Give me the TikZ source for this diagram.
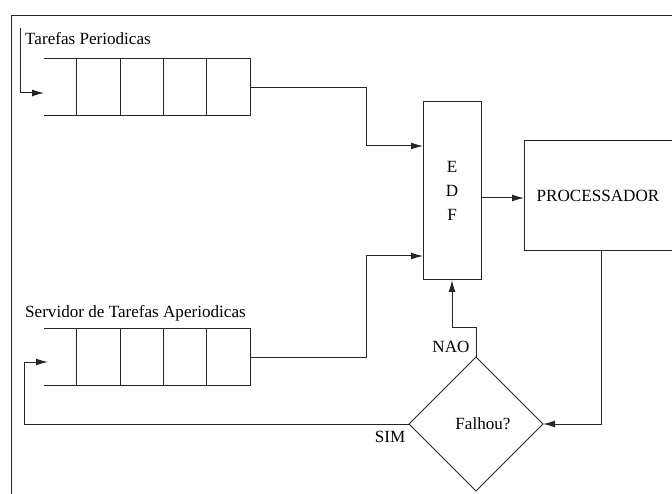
\documentclass[tikz,border=0pt]{standalone}
\usepackage{fontspec}
\setmainfont{Liberation Serif}
\usetikzlibrary{arrows.meta,shapes.geometric}
\begin{document}
\begin{tikzpicture}[x=1pt,y=-1pt,
  every node/.style={font=\fontsize{17.1}{24}\selectfont},
  ln/.style={line width=1pt,draw=black!85},
  arr/.style={ln,-{Latex[length=12pt,width=7pt]}},
  qbox/.style={ln,draw,rectangle,minimum width=43.25pt,minimum height=57pt,inner sep=0pt,outer sep=0pt}]
\useasboundingbox (0,0) rectangle (672,494);
% frame
\draw[ln] (672,16) -- (11,16) -- (11,494);
% queue 1
\node[qbox] (q1a) at (98.6,87.5) {};
\node[qbox] (q1b) at (141.9,87.5) {};
\node[qbox] (q1c) at (185.1,87.5) {};
\node[qbox] (q1d) at (228.4,87.5) {};
\draw[ln] (44,59) -- (q1a.north west);
\draw[ln] (44,116) -- (q1a.south west);
% queue 2
\node[qbox] (q2a) at (98.6,357) {};
\node[qbox] (q2b) at (141.9,357) {};
\node[qbox] (q2c) at (185.1,357) {};
\node[qbox] (q2d) at (228.4,357) {};
\draw[ln] (44,328.5) -- (q2a.north west);
\draw[ln] (44,385.5) -- (q2a.south west);
% labels
\node[anchor=base west,inner sep=0pt] (lt1) at (25,45) {Tarefas Periodicas};
\node[anchor=base west,inner sep=0pt] (lt2) at (25,318) {Servidor de Tarefas Aperiodicas};
% EDF
\node[ln,draw,rectangle,minimum width=58pt,minimum height=178pt,inner sep=0pt,outer sep=0pt,align=center] (edf) at (452,191) {E\\D\\F};
% Processador
\node[rectangle,minimum width=148pt,minimum height=110pt,inner sep=0pt,outer sep=0pt] (proc) at (598,196) {PROCESSADOR};
\draw[ln] (proc.north east) -- (proc.north west) -- (proc.south west) -- (proc.south east);
% decision
\node[ln,draw,diamond,minimum width=134pt,minimum height=134pt,inner sep=0pt,outer sep=0pt] (dia) at (476,424) {};
\node (ftxt) at (483,424) {Falhou?};
\node (nao) at (451,347) {NAO};
\node (sim) at (390,437) {SIM};
% coordinates
\coordinate (t1) at (20,28);
\coordinate (qin1) at (44,93);
\coordinate (qin2) at (48,362);
% connectors
\draw[arr] (t1) |- (qin1);
\draw[arr] (q1d.east) -- (366,87.5) |- (edf.west |- 0,146);
\draw[arr] (q2d.east) -- (366,357) |- (edf.west |- 0,256);
\draw[arr] (edf.east |- 0,198) -- (proc.west |- 0,198);
\draw[arr] (proc.south -| 601,0) |- (dia.east);
\draw[arr] (dia.north) -- ++(0,-29) -| (edf.south);
\draw[arr] (dia.west) -| (24,362) -- (qin2);
\end{tikzpicture}
\end{document}
